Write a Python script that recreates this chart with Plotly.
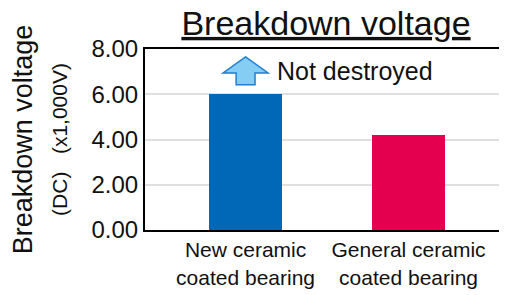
import plotly.graph_objects as go

categories = ["New ceramic<br>coated bearing", "General ceramic<br>coated bearing"]
values = [6.0, 4.2]
colors = ["#0068b7", "#e4004f"]
tick_vals = [0, 2, 4, 6, 8]
note_text = "Not destroyed"

xs = list(range(len(categories)))

fig = go.Figure()
fig.add_trace(go.Bar(x=xs, y=values, marker=dict(color=colors, line=dict(width=0)),
                     width=0.45, showlegend=False))

# up arrow above first bar (relative to its value)
cx = xs[0]
v = values[0]
tip, neck, base = v + 1.65, v + 0.94, v + 0.42
hw, sw = 0.138, 0.058
path = (f"M {cx},{tip} L {cx+hw},{neck} L {cx+sw},{neck} L {cx+sw},{base} "
        f"L {cx-sw},{base} L {cx-sw},{neck} L {cx-hw},{neck} Z")
fig.add_shape(type="path", path=path, xref="x", yref="y",
              fillcolor="#86cdf3", line=dict(color="#1f7fd0", width=1.5))
fig.add_annotation(x=cx + 0.18, y=v + 1.03, xref="x", yref="y", text=note_text,
                   showarrow=False, xanchor="left", yanchor="middle",
                   font=dict(size=25, color="#111111"))

# page body has an 8px margin; size the figure to fill the rest of the window
fig.update_layout(
    width=499, height=287,
    margin=dict(l=137, r=0, t=41, b=65),
    paper_bgcolor="white", plot_bgcolor="white",
    font=dict(family="Liberation Sans, Arial, sans-serif", color="#111111"),
    title=dict(text="<u>Breakdown voltage</u>", x=0.5, xref="paper",
               y=1 - 15 / 287, yref="container", yanchor="middle", xanchor="center",
               font=dict(size=34, color="#111111")),
    bargap=0,
)
fig.update_xaxes(range=[-0.617, 1.604], tickvals=xs, ticktext=categories,
                 showline=True, linecolor="black", linewidth=2, mirror=True,
                 ticks="", showgrid=False, zeroline=False,
                 tickfont=dict(size=21, color="#111111"))
fig.update_yaxes(range=[0, 8], tickvals=tick_vals, tickformat=".2f",
                 showline=True, linecolor="black", linewidth=2,
                 ticks="", showgrid=True, gridcolor="#e0e0e0", gridwidth=1.5,
                 zeroline=False, tickfont=dict(size=24, color="#111111"),
                 title=dict(text="Breakdown voltage<br><span style='font-size:21px'>(DC)   (x1,000V)</span>",
                            font=dict(size=27, color="#111111"), standoff=22))

fig.write_html("out.html")
